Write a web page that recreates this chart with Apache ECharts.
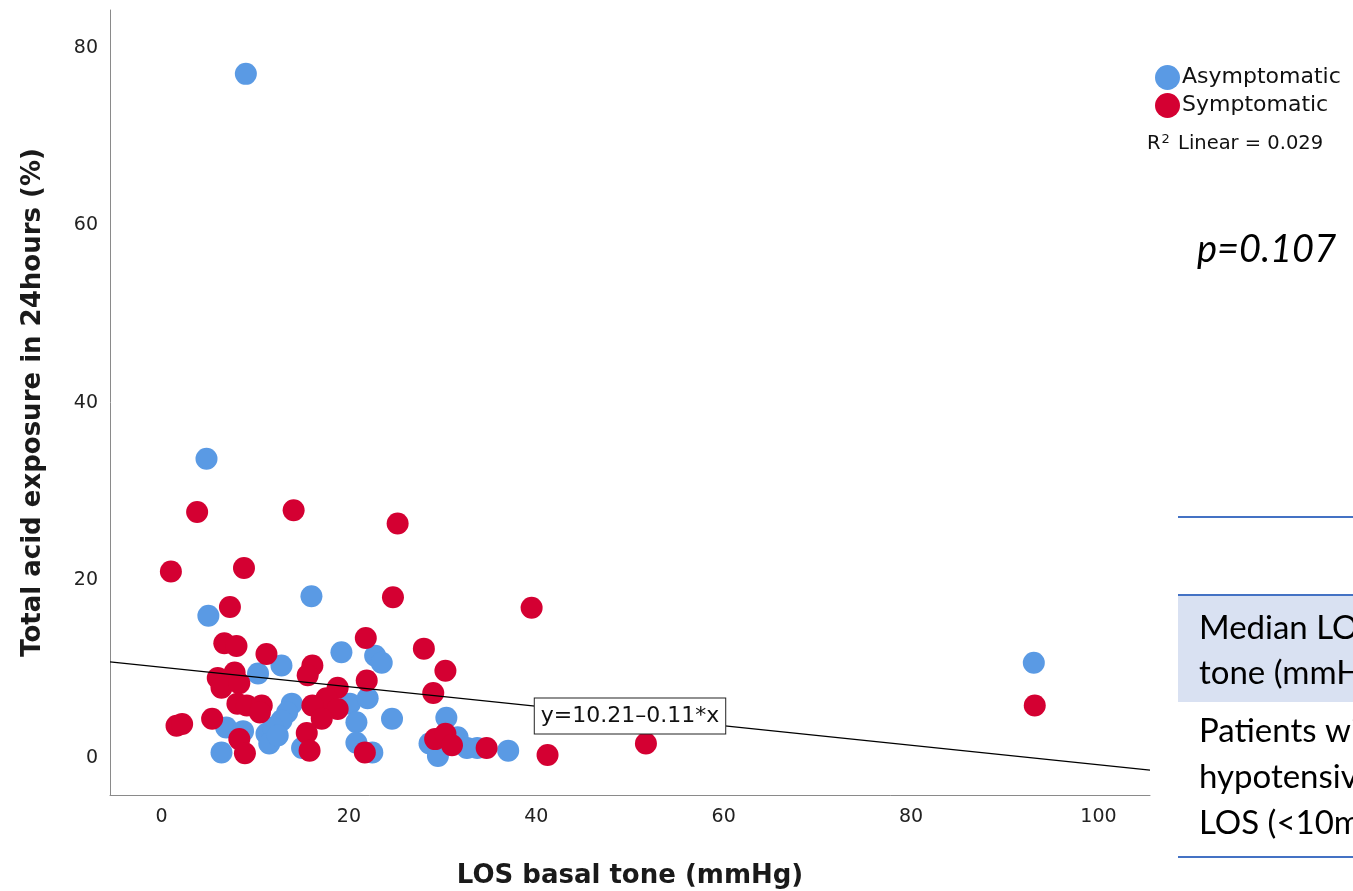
<!DOCTYPE html>
<html>
<head>
<meta charset="utf-8">
<script src="https://cdn.jsdelivr.net/npm/echarts@6/dist/echarts.min.js"></script>
<style>
html,body{margin:0;padding:0;background:#fff;}
#chart{width:1353px;height:891px;}
</style>
</head>
<body>
<div id="chart"></div>
<script>
// ---- data ----
const xTicks = [0, 20, 40, 60, 80, 100];
const yTicks = [0, 20, 40, 60, 80];

const asymptomatic = [
  [9.0, 77.1], [4.8, 33.7], [5.0, 16.0], [16.0, 18.2], [93.1, 10.7],
  [10.3, 9.5], [12.8, 10.4], [19.2, 11.9], [22.8, 11.5], [23.5, 10.7],
  [13.9, 6.1], [20.1, 6.1], [22.0, 6.7], [6.9, 3.4], [8.7, 3.0],
  [6.4, 0.6], [11.2, 2.7], [13.4, 5.1], [12.8, 4.2], [11.9, 3.4],
  [11.5, 1.6], [12.4, 2.5], [15.0, 1.1], [20.8, 4.0], [24.6, 4.4],
  [30.4, 4.5], [20.8, 1.7], [22.5, 0.6], [31.6, 2.3], [28.6, 1.6],
  [29.5, 0.2], [32.6, 1.1], [33.7, 1.1], [37.0, 0.8]
];

const symptomatic = [
  [1.0, 21.0], [3.8, 27.7], [14.1, 27.9], [25.2, 26.4], [8.8, 21.4],
  [7.3, 17.0], [24.7, 18.1], [39.5, 16.9], [93.2, 5.9], [51.7, 1.6],
  [41.2, 0.3], [34.7, 1.1], [6.7, 12.9], [8.0, 12.6], [11.2, 11.7],
  [16.1, 10.4], [15.6, 9.3], [6.0, 9.0], [7.8, 9.6], [6.4, 7.9],
  [8.3, 8.4], [18.8, 7.9], [17.6, 6.7], [8.1, 6.1], [9.1, 5.9],
  [10.7, 5.9], [10.5, 5.1], [16.1, 5.9], [18.8, 5.5], [17.1, 4.4],
  [5.4, 4.4], [1.6, 3.6], [2.2, 3.8], [8.3, 2.1], [8.9, 0.5],
  [15.5, 2.8], [15.8, 0.8], [21.8, 13.5], [28.0, 12.3], [30.3, 9.8],
  [21.9, 8.7], [29.0, 7.3], [21.7, 0.6], [29.2, 2.1], [30.3, 2.7],
  [31.0, 1.4]
];

// fit line end points as drawn, and where its equation label sits
const fitLine = [[-5.5, 10.8], [105.5, -1.4]];
const fitLabelAt = [50.0, 4.7];
const fitText = 'y=10.21\u20130.11*x';
const r2Text = '0.029';
const pText = 'p=0.107';
const tableLines = ['Median LOS basal', 'tone (mmHg)', 'Patients with', 'hypotensive', 'LOS (<10mmHg)'];

const BLUE = '#5A9AE4';
const RED = '#D40032';

const chart = echarts.init(document.getElementById('chart'));
const tickFont = { fontFamily: 'DejaVu Sans', fontSize: 19, color: '#222' };

const staticGraphics = [
  {
    type: 'text', left: 1147, top: 133,
    style: {
      text: '{r|R}{s|2}{r| Linear = ' + r2Text + '}',
      rich: {
        r: { fontFamily: 'DejaVu Sans', fontSize: 19.5, fill: '#111', color: '#111' },
        s: { fontFamily: 'DejaVu Sans', fontSize: 13, fill: '#111', color: '#111', verticalAlign: 'top', padding: [0, 2, 8, 1] }
      }
    }
  },
  {
    type: 'text',
    style: { x: 1197, y: 250, text: pText, font: 'italic 38px Lato', fill: '#000', textVerticalAlign: 'middle' }
  },
  { type: 'line', shape: { x1: 1178, y1: 517, x2: 1353, y2: 517 }, style: { stroke: '#4472C4', lineWidth: 2 } },
  { type: 'rect', shape: { x: 1178, y: 595, width: 175, height: 107 }, style: { fill: '#D9E1F2' } },
  { type: 'line', shape: { x1: 1178, y1: 595, x2: 1353, y2: 595 }, style: { stroke: '#4472C4', lineWidth: 2 } },
  { type: 'line', shape: { x1: 1178, y1: 857, x2: 1353, y2: 857 }, style: { stroke: '#4472C4', lineWidth: 2 } },
  { type: 'text', style: { x: 1199, y: 628, text: tableLines[0], font: '33px Lato', fill: '#000', textVerticalAlign: 'middle' } },
  { type: 'text', style: { x: 1199, y: 673, text: tableLines[1], font: '33px Lato', fill: '#000', textVerticalAlign: 'middle' } },
  { type: 'text', style: { x: 1199, y: 731, text: tableLines[2], font: '33px Lato', fill: '#000', textVerticalAlign: 'middle' } },
  { type: 'text', style: { x: 1199, y: 777, text: tableLines[3], font: '33px Lato', fill: '#000', textVerticalAlign: 'middle' } },
  { type: 'text', style: { x: 1199, y: 823, text: tableLines[4], font: '33px Lato', fill: '#000', textVerticalAlign: 'middle' } }
];

const option = {
  backgroundColor: '#fff',
  animation: false,
  grid: { left: 110, right: 203, top: 10, bottom: 96, containLabel: false, outerBoundsMode: 'none' },
  xAxis: {
    type: 'value', min: -5.5, max: 105.5,
    name: 'LOS basal tone (mmHg)', nameLocation: 'middle', nameGap: 68,
    nameTextStyle: { fontFamily: 'DejaVu Sans', fontWeight: 'bold', fontSize: 26, color: '#1a1a1a' },
    axisLine: { show: true, onZero: false, lineStyle: { color: '#8a8a8a', width: 1 } },
    axisTick: { show: false },
    splitLine: { show: false },
    axisLabel: Object.assign({ customValues: xTicks, margin: 13 }, tickFont)
  },
  yAxis: {
    type: 'value', min: -4.2, max: 84.3,
    name: 'Total acid exposure in 24hours (%)', nameLocation: 'middle', nameGap: 64,
    nameTextStyle: { fontFamily: 'DejaVu Sans', fontWeight: 'bold', fontSize: 26, color: '#1a1a1a' },
    axisLine: { show: true, onZero: false, lineStyle: { color: '#8a8a8a', width: 1 } },
    axisTick: { show: false },
    splitLine: { show: false },
    axisLabel: Object.assign({ customValues: yTicks, margin: 12 }, tickFont)
  },
  legend: {
    orient: 'vertical', left: 1150, top: 60,
    icon: 'circle', itemWidth: 25, itemHeight: 25, itemGap: 3,
    textStyle: { fontFamily: 'DejaVu Sans', fontSize: 22, color: '#111', padding: [0, 0, 0, -3] },
    data: ['Asymptomatic', 'Symptomatic']
  },
  series: [
    {
      name: 'Asymptomatic', type: 'scatter', data: asymptomatic,
      symbolSize: 22, itemStyle: { color: BLUE, opacity: 1 }, z: 2
    },
    {
      name: 'Symptomatic', type: 'scatter', data: symptomatic,
      symbolSize: 22, itemStyle: { color: RED, opacity: 1 }, z: 3
    },
    {
      name: 'fit', type: 'line', data: fitLine, showSymbol: false, symbol: 'none',
      lineStyle: { color: '#000', width: 1.3 }, z: 4, silent: true
    }
  ],
  graphic: staticGraphics
};
chart.setOption(option);

// equation label box, placed at its data position through the axes
const p = chart.convertToPixel({ gridIndex: 0 }, fitLabelAt);
chart.setOption({
  graphic: staticGraphics.concat([{
    type: 'text', x: p[0], y: p[1], z: 100,
    style: {
      text: fitText, font: '22px "DejaVu Sans"', fill: '#111',
      align: 'center', verticalAlign: 'middle',
      backgroundColor: '#fff', borderColor: '#222', borderWidth: 1,
      padding: [5, 6, 4, 6], lineHeight: 26
    }
  }])
}, { replaceMerge: ['graphic'] });
</script>
</body>
</html>
